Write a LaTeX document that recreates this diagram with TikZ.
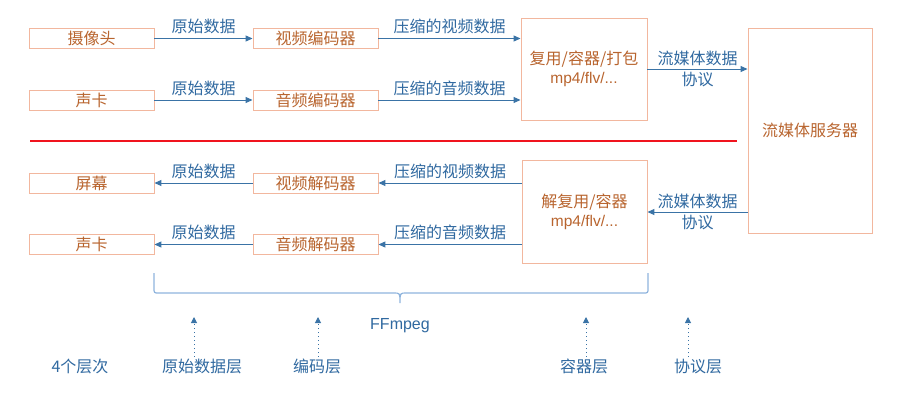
\documentclass[tikz,border=0pt]{standalone}
\usepackage{fontspec}
\setmainfont{Noto Sans CJK SC}
\newfontfamily\latinfont{Liberation Sans}
\usetikzlibrary{arrows.meta}
\definecolor{boxborder}{HTML}{F2B79E}
\definecolor{boxtext}{HTML}{B8642E}
\definecolor{arrowblue}{HTML}{3A73A6}
\definecolor{labelblue}{HTML}{3069A0}
\definecolor{bracecol}{HTML}{8FB4DD}
\definecolor{redline}{HTML}{F0141E}
\tikzset{
  box/.style={draw=boxborder, line width=0.9pt, text=boxtext, font=\fontsize{16}{19}\selectfont, inner sep=0pt, align=center},
  smallbox/.style={box, minimum width=125pt, minimum height=20pt},
  flow/.style={draw=arrowblue, line width=1pt, -{Triangle[length=7pt,width=6pt]}},
  lbl/.style={text=labelblue, font=\fontsize{16}{19}\selectfont, align=center, inner sep=0pt},
  layer/.style={draw=arrowblue, line width=1pt, dotted, -{Triangle[length=6pt,width=6pt]}},
}
\begin{document}
\begin{tikzpicture}[x=1pt,y=-1pt]
\useasboundingbox (0,0) rectangle (924,400);
% top row boxes
\node[smallbox] (cam) at (91.5,38.5) {摄像头};
\node[smallbox] (venc) at (315.5,38.5) {视频编码器};
\node[smallbox] (sc1) at (91.5,100) {声卡};
\node[smallbox] (aenc) at (315.5,100) {音频编码器};
\node[box, minimum width=126pt, minimum height=102pt] (mux) at (584,69) {复用/容器/打包\\{\latinfont\fontsize{15.5}{19}\selectfont mp4/flv/...}};
\node[box, minimum width=124pt, minimum height=205pt] (server) at (810,130.5) {流媒体服务器};
% bottom row boxes
\node[smallbox] (screen) at (91.5,183) {屏幕};
\node[smallbox] (vdec) at (315.5,183) {视频解码器};
\node[smallbox] (sc2) at (91.5,244.5) {声卡};
\node[smallbox] (adec) at (315.5,244.5) {音频解码器};
\node[box, minimum width=125pt, minimum height=103pt] (demux) at (584.5,211.5) {解复用/容器\\{\latinfont\fontsize{15.5}{19}\selectfont mp4/flv/...}};

% top flows
\draw[flow] (cam.east) -- node[lbl, above=4pt] {原始数据} (venc.west);
\draw[flow] (sc1.east) -- node[lbl, above=4pt] {原始数据} (aenc.west);
\draw[flow] (venc.east) -- node[lbl, above=4pt] {压缩的视频数据} (venc.east -| mux.west);
\draw[flow] (aenc.east) -- node[lbl, above=4pt] {压缩的音频数据} (aenc.east -| mux.west);
\draw[flow] (mux.east) -- node[lbl, font=\fontsize{16}{21}\selectfont] {流媒体数据\\协议} (mux.east -| server.west);

% separator
\coordinate (redL) at (30,141);
\coordinate (redR) at (737,141);
\draw[redline, line width=2pt] (redL) -- (redR);

% bottom flows
\draw[flow] (vdec.west) -- node[lbl, above=4pt] {原始数据} (screen.east);
\draw[flow] (adec.west) -- node[lbl, above=4pt] {原始数据} (sc2.east);
\draw[flow] (vdec.east -| demux.west) -- node[lbl, above=4pt] {压缩的视频数据} (vdec.east);
\draw[flow] (adec.east -| demux.west) -- node[lbl, above=4pt] {压缩的音频数据} (adec.east);
\draw[flow] (server.west |- 0,212) -- node[lbl, font=\fontsize{16}{21}\selectfont] {流媒体数据\\协议} (demux.east |- 0,212);

% brace
\draw[bracecol, line width=1.2pt] (154,273) -- (154,288) .. controls (154,293) .. (159,293) -- (394,293) .. controls (400,293) .. (400,303) .. controls (400,293) .. (406,293) -- (643,293) .. controls (648,293) .. (648,288) -- (648,273);
\node[lbl, font=\latinfont\fontsize{16}{19}\selectfont] (ffmpeg) at (400,326) {FFmpeg};

% layers
\node[lbl] (l0) at (80,366) {4个层次};
\node[lbl] (l1) at (202,366) {原始数据层};
\node[lbl] (l2) at (317,366) {编码层};
\node[lbl] (l3) at (584,366) {容器层};
\node[lbl] (l4) at (698,366) {协议层};
\coordinate (t1) at (194,317);
\coordinate (t2) at (318,317);
\coordinate (t3) at (586,317);
\coordinate (t4) at (688,317);
\draw[layer, dash pattern=on 1pt off 3pt] (t1 |- 0,357) -- (t1);
\draw[layer, dash pattern=on 1pt off 3pt] (t2 |- 0,357) -- (t2);
\draw[layer, dash pattern=on 1pt off 3pt] (t3 |- 0,357) -- (t3);
\draw[layer, dash pattern=on 1pt off 3pt] (t4 |- 0,357) -- (t4);
\end{tikzpicture}
\end{document}
